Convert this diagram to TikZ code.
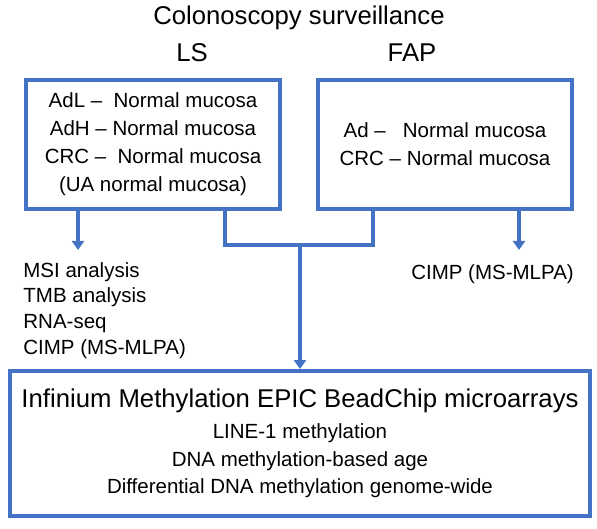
\documentclass[tikz,border=0pt]{standalone}
\usepackage{fontspec}
\setmainfont{Liberation Sans}
\usepackage{xcolor}
\usepackage{tikz}
\usetikzlibrary{arrows.meta,positioning}
\definecolor{frame}{HTML}{4472C4}

\begin{document}
\begin{tikzpicture}[
  x=0.5pt, y=0.5pt,
  big/.style={font=\fontsize{12.85}{15.5}\selectfont},
  small/.style={font=\fontsize{10.25}{14}\selectfont},
  group/.style={
    rectangle,
    draw=frame,
    line width=2pt,
    align=center,
    small,
    minimum width=127pt,
    minimum height=64.5pt
  },
  result/.style={
    rectangle,
    draw=frame,
    line width=2pt,
    align=center,
    font=\fontsize{10.25}{13.75}\selectfont,
    minimum width=290pt,
    minimum height=72.5pt
  },
  list/.style={
    align=left,
    inner xsep=0pt,
    font=\fontsize{10.25}{12.85}\selectfont
  },
  arrow/.style={-{Triangle[width=6pt,length=4.5pt]}, line width=1.75pt, draw=frame},
  link/.style={line width=2pt, draw=frame}
]
\useasboundingbox (0,0) rectangle (597,-528);

\node[big, anchor=base] (title) at (299,-24.2) {Colonoscopy surveillance};
\node[big, anchor=base] (ls) at (192,-61.2) {LS};
\node[big, anchor=base] (fap) at (412,-61.2) {FAP};

\node[group] (lsbox) at (153,-144.5) {AdL \textendash\ \ Normal mucosa\\AdH \textendash\ Normal mucosa\\CRC \textendash\ \ Normal mucosa\\(UA normal mucosa)};
\node[group] (fapbox) at (445,-144.5) {Ad \textendash\ \ \ Normal mucosa\\CRC \textendash\ Normal mucosa};

\node[list, anchor=north west, inner ysep=6pt] (lsout) at (23,-250) {MSI analysis\\TMB analysis\\RNA-seq\\CIMP (MS-MLPA)};
\node[list, anchor=north, inner ysep=7pt] (fapout) at (492.5,-250) {CIMP (MS-MLPA)};

\node[result] (epic) at (300,-443.5) {{\fontsize{12.85}{15.5}\selectfont Infinium Methylation EPIC BeadChip microarrays}\\[1.75pt]LINE-1 methylation\\DNA methylation-based age\\Differential DNA methylation genome-wide};

\coordinate (merge) at (300,-245);

\draw[arrow] ([xshift=27pt]lsbox.south west) -- ([xshift=27pt]lsbox.south west |- lsout.north);
\draw[arrow] ([xshift=-27.5pt]fapbox.south east) -- ([xshift=-27.5pt]fapbox.south east |- fapout.north);
\draw[link] ([xshift=36pt]lsbox.south) |- (merge) -| ([xshift=-36pt]fapbox.south);
\draw[arrow] (merge) -- (epic.north);
\end{tikzpicture}
\end{document}
